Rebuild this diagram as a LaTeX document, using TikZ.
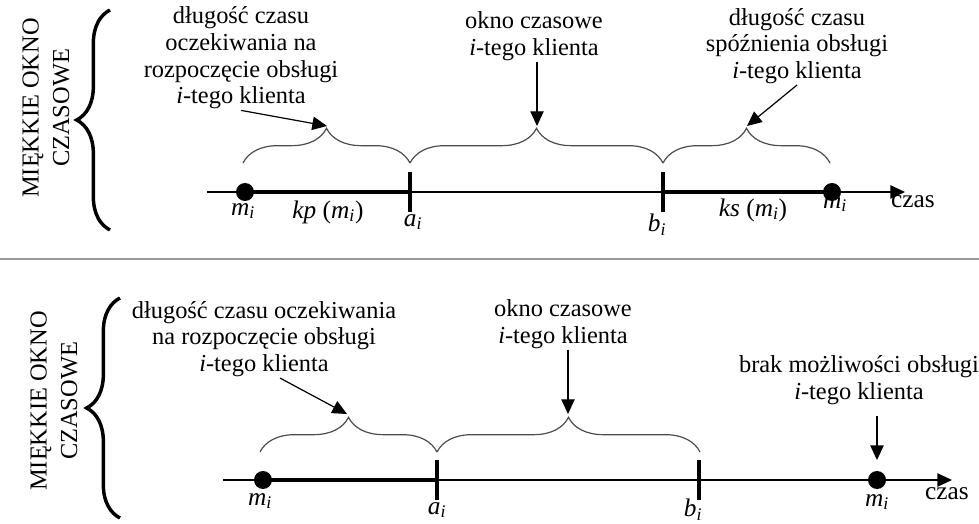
\documentclass[tikz,border=0pt]{standalone}
\usepackage{fontspec}
\setmainfont{Liberation Serif}
\usetikzlibrary{arrows.meta}
\usetikzlibrary{decorations.pathreplacing}

\newcommand{\mi}{\textit{m}\textsubscript{\textit{i}}}
\tikzset{
  txt/.style={inner sep=0.75pt, align=center, font=\fontsize{18.3}{20}\selectfont},
  lbl/.style={inner sep=0.75pt, font=\fontsize{19}{20}\selectfont},
  curly/.style={draw=black!70, line width=0.9pt, decorate, decoration={brace,amplitude=26pt}},
  bigcurly/.style={line width=2.6pt, decorate, decoration={brace,amplitude=25pt}},
  ptr/.style={line width=0.9pt, -{Triangle[length=11pt,width=10pt]}},
  axis/.style={line width=1.1pt, -{Triangle[length=11pt,width=10pt]}},
  dot/.style={circle, fill, inner sep=0pt, minimum size=13.5pt},
  tickmark/.style={rectangle, fill, inner sep=0pt, minimum width=3pt, minimum height=30pt},
  seg/.style={line width=3.6pt},
}

\begin{document}
\begin{tikzpicture}[x=0.75pt,y=0.75pt,yscale=-1,xscale=1]
	\useasboundingbox (0,0) rectangle (979,524);

	%%% upper part
	% Text Node
	\node[txt, rotate=90] (title1) at (46,108) {MIĘKKIE OKNO\\[3pt]CZASOWE};
	%Shape: Brace
	\draw[bigcurly] (110,230) -- (110,10);

	% time axis
	\coordinate (t1s) at (207,192);
	\coordinate (t1e) at (905,192);
	\draw[axis] (t1s) -- (t1e);
	\node[dot] (m1) at (245,192) {};
	\node[tickmark] (a1) at (410,192) {};
	\node[tickmark] (b1) at (663,192) {};
	\node[dot] (m2) at (832,192) {};
	\draw[seg] (m1.center) -- (a1.center);
	\draw[seg] (b1.center) -- (m2.center);

	% Text Node
	\node[lbl] (lm1) at (243,211) {\mi};
	\node[lbl] (lkp) at (328,212) {\textit{kp} (\mi)};
	\node[lbl] (la1) at (413,222) {\textit{a}\textsubscript{\textit{i}}};
	\node[lbl] (lb1) at (657,225) {\textit{b}\textsubscript{\textit{i}}};
	\node[lbl] (lks) at (753,210) {\textit{ks} (\mi)};
	\node[lbl] (lm2) at (835,204) {\mi};
	\node[lbl] (czas1) at (913,202) {czas};

	%Shape: Brace
	\draw[curly] (243,163) -- (410,163);
	\draw[curly] (410,163) -- (663,163);
	\draw[curly] (663,163) -- (830,163);
	\coordinate (tipA) at (327,126);
	\coordinate (tipB) at (537,126);
	\coordinate (tipC) at (747,126);

	% Text Node
	\node[txt] (txtA) at (241,58) {długość czasu\\oczekiwania na\\rozpoczęcie obsługi\\\textit{i}-tego klienta};
	\node[txt] (txtB) at (534,36) {okno czasowe\\\textit{i}-tego klienta};
	\node[txt] (txtC) at (797,46) {długość czasu\\spóźnienia obsługi\\\textit{i}-tego klienta};
	\draw[ptr] (txtA.south) -- (tipA);
	\draw[ptr] (txtB.south -| tipB) -- (tipB);
	\draw[ptr] (txtC.south) -- (tipC);

	%Straight Lines
	\draw[black!40, line width=0.8pt] (0,259) -- (979,259);

	%%% lower part
	% Text Node
	\node[txt, rotate=90] (title2) at (54,401) {MIĘKKIE OKNO\\[3pt]CZASOWE};
	%Shape: Brace
	\draw[bigcurly] (120,518) -- (120,298);

	% time axis
	\coordinate (t2s) at (223,480);
	\coordinate (t2e) at (952,480);
	\draw[axis] (t2s) -- (t2e);
	\node[dot] (m3) at (263,480) {};
	\node[tickmark] (a2) at (437,480) {};
	\node[tickmark] (b2) at (699,480) {};
	\node[dot] (m4) at (877,480) {};
	\draw[seg] (m3.center) -- (a2.center);

	% Text Node
	\node[lbl] (lm3) at (260,501) {\mi};
	\node[lbl] (la2) at (437,510) {\textit{a}\textsubscript{\textit{i}}};
	\node[lbl] (lb2) at (693,510) {\textit{b}\textsubscript{\textit{i}}};
	\node[lbl] (lm4) at (877,502) {\mi};
	\node[lbl] (czas2) at (947,494) {czas};

	%Shape: Brace
	\draw[curly] (260,452) -- (437,452);
	\draw[curly] (437,452) -- (700,452);
	\coordinate (tipD) at (347,414);
	\coordinate (tipE) at (568,414);

	% Text Node
	\node[txt] (txtD) at (264,339) {długość czasu oczekiwania\\na rozpoczęcie obsługi\\\textit{i}-tego klienta};
	\node[txt] (txtE) at (563,324) {okno czasowe\\\textit{i}-tego klienta};
	\node[txt] (txtF) at (859,380) {brak możliwości obsługi\\\textit{i}-tego klienta};
	\draw[ptr] ([xshift=12pt]txtD.south) -- (tipD);
	\draw[ptr] (txtE.south -| tipE) -- (tipE);
	\draw[ptr, shorten <=8pt, shorten >=8pt] (txtF.south -| m4) -- (m4.north);

\end{tikzpicture}
\end{document}
